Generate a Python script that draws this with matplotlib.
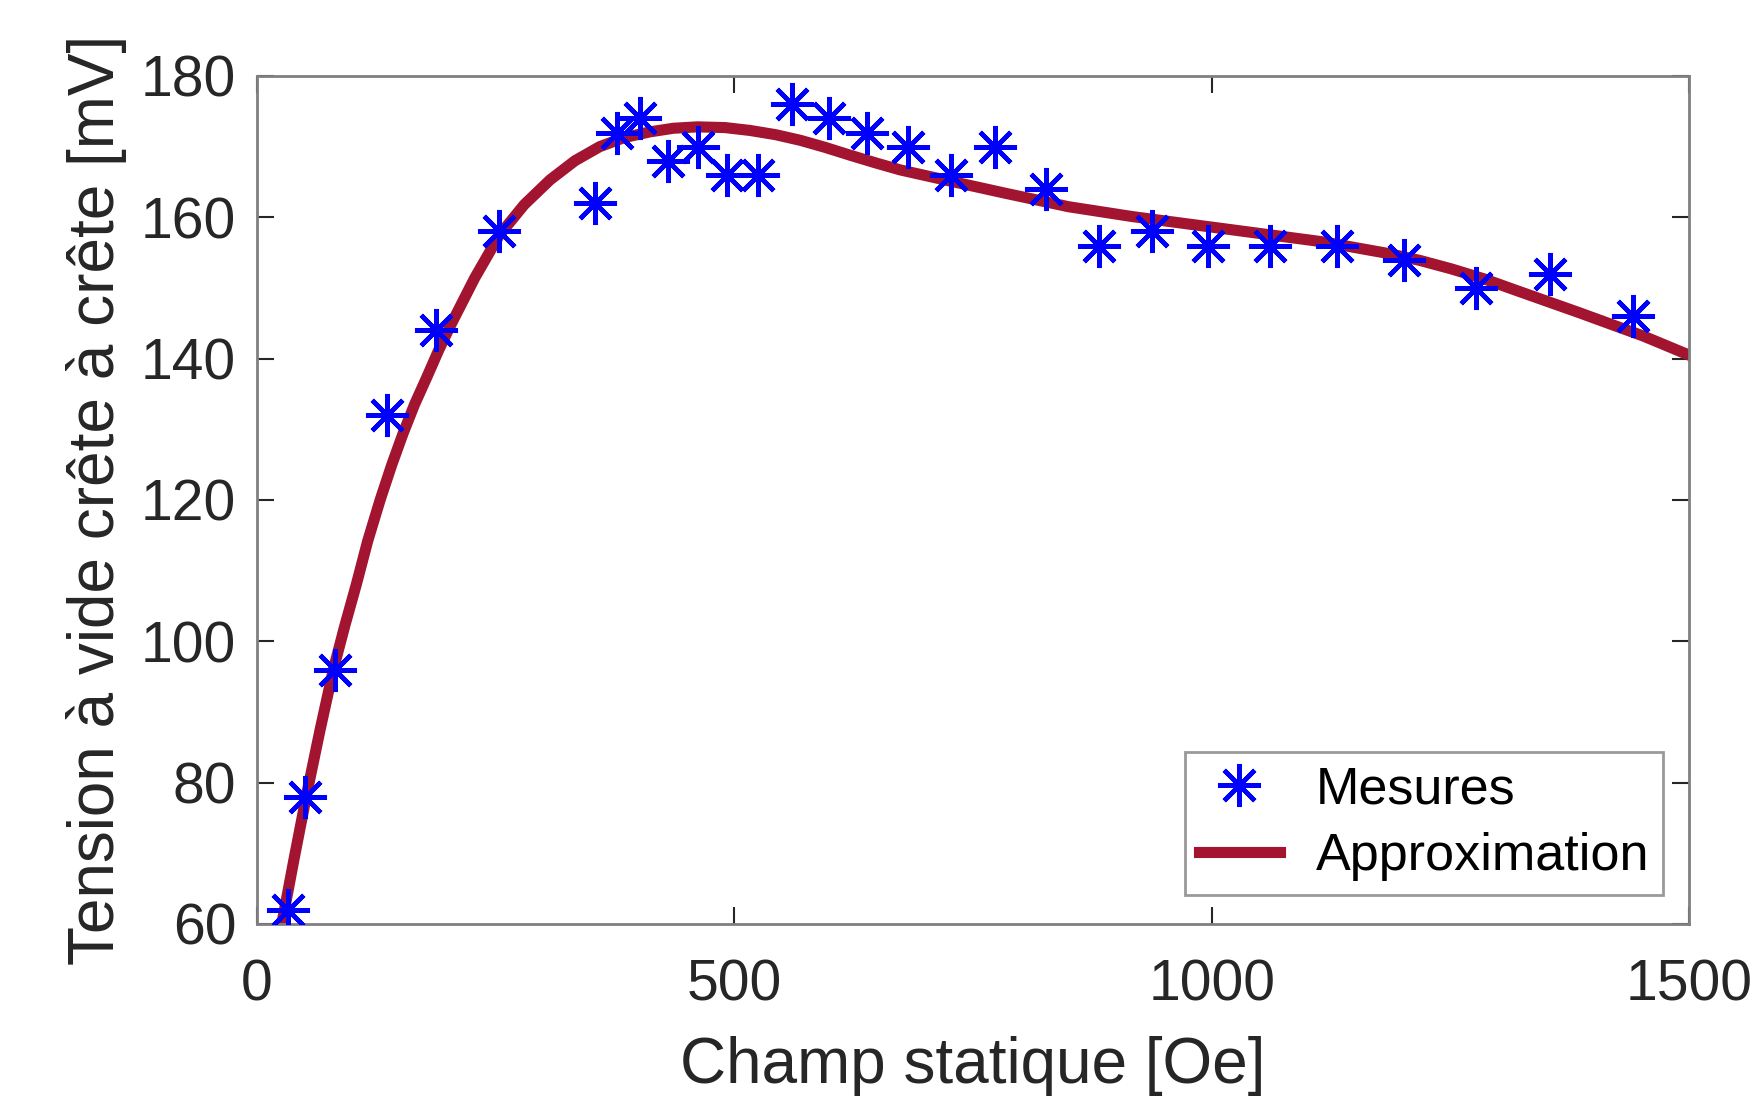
import numpy as np
import matplotlib
matplotlib.use('Agg')
import matplotlib.pyplot as plt

plt.rcParams['font.family'] = ['Liberation Sans', 'DejaVu Sans']

# measurements
champ = [33, 50, 82, 136, 188, 254, 354, 377, 401, 430, 462, 492, 525, 560,
         599, 639, 682, 727, 773, 826, 882, 937, 996, 1061, 1131, 1201, 1277,
         1354, 1441]
tension = [62, 78, 96, 132, 144, 158, 162, 172, 174, 168, 170, 166, 166, 176,
           174, 172, 170, 166, 170, 164, 156, 158, 156, 156, 156, 154, 150,
           152, 146]

# fitted curve
champ_fit = [26, 39, 52, 66, 80, 92, 104, 116, 129, 141, 153, 165, 178, 190,
             202, 228, 254, 280, 307, 333, 359, 385, 412, 436, 461, 490, 516,
             543, 569, 595, 621, 648, 674, 717, 784, 850, 917, 984, 1051,
             1118, 1184, 1218, 1251, 1285, 1318, 1385, 1452, 1500]
tension_fit = [60, 69.3, 78.3, 87.4, 96, 102.2, 108, 114.2, 120, 124.9, 129.4,
               133.5, 137.4, 141.1, 144.5, 151.4, 157.5, 161.8, 165.3, 168.0,
               170.0, 171.3, 172.1, 172.6, 172.8, 172.7, 172.3, 171.7, 170.9,
               169.9, 168.8, 167.7, 166.7, 165.4, 163.4, 161.5, 160.1, 158.9,
               157.7, 156.5, 154.9, 153.9, 152.7, 151.3, 149.7, 146.5, 143.2,
               140.5]

fig = plt.figure(figsize=(17.54, 10.98), dpi=100)
ax = fig.add_axes([0.1465, 0.1585, 0.8165, 0.7723])

ax.plot(champ, tension, linestyle='none', marker=(8, 2, 0), markersize=31,
        markeredgewidth=3.3, color='#0000FF', label='Mesures', zorder=3)
ax.plot(champ_fit, tension_fit, color='#A2142F', linewidth=8,
        solid_joinstyle='round', label='Approximation', zorder=2)

ax.set_xlim(0, 1500)
ax.set_ylim(60, 180)
ax.set_xticks([0, 500, 1000, 1500])
ax.set_yticks([60, 80, 100, 120, 140, 160, 180])

for s in ax.spines.values():
    s.set_color('#808080')
    s.set_linewidth(2)
ax.tick_params(direction='in', length=12, width=1.5, color='#262626',
               labelsize=41, labelcolor='#262626', top=True, right=True)
ax.tick_params(axis='x', pad=25)
ax.tick_params(axis='y', pad=15)

ax.set_xlabel('Champ statique [Oe]', fontsize=46, color='#262626', labelpad=17)
ax.set_ylabel('Tension à vide crête à crête [mV]', fontsize=46,
              color='#262626', labelpad=10)

leg = ax.legend(loc='lower right', bbox_to_anchor=(0.9818, 0.0342),
                borderaxespad=0, fontsize=37.5, frameon=True, fancybox=False,
                handlelength=1.55, borderpad=0.26, labelspacing=0.34,
                handletextpad=0.7)
leg.get_frame().set_edgecolor('#808080')
leg.get_frame().set_linewidth(2)

fig.savefig('out.png', dpi=100)
